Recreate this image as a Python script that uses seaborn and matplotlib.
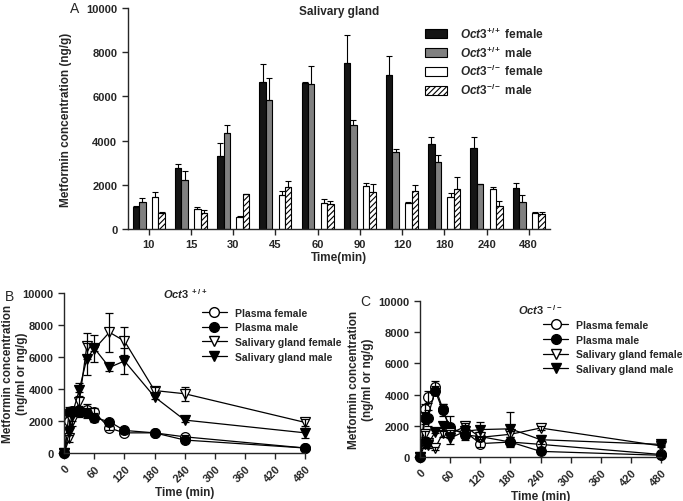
import numpy as np
import pandas as pd
import seaborn as sns
import matplotlib.pyplot as plt
from matplotlib.patches import Patch
from matplotlib.lines import Line2D

# ---- panel A data (bars, mean and upper SEM)
bar_times = ['10', '15', '30', '45', '60', '90', '120', '180', '240', '480']
wt_female = [1000, 2780, 3280, 6650, 6600, 7520, 6970, 3840, 3660, 1850]
wt_male = [1210, 2230, 4350, 5850, 6550, 4710, 3480, 3040, 2020, 1230]
ko_female = [1430, 920, 560, 1520, 1190, 1940, 1190, 1430, 1820, 730]
ko_male = [710, 700, 1570, 1880, 1120, 1690, 1730, 1810, 1040, 690]
wt_female_err = [50, 180, 590, 830, 30, 1250, 850, 330, 500, 220]
wt_male_err = [170, 410, 370, 970, 830, 200, 140, 320, 30, 300]
ko_female_err = [230, 60, 40, 180, 180, 130, 40, 180, 100, 30]
ko_male_err = [40, 170, 30, 300, 150, 330, 250, 540, 220, 60]

# ---- panels B and C data (time courses)
times = [0, 10, 15, 30, 45, 60, 90, 120, 180, 240, 480]
b_plasma_f = [0, 2000, 2550, 2600, 2700, 2550, 1550, 1250, 1250, 1000, 300]
b_plasma_m = [0, 2550, 2600, 2600, 2500, 2200, 1950, 1400, 1250, 800, 300]
b_sg_f = [0, 900, 2000, 3200, 6700, 6500, 7550, 7000, 3900, 3700, 1900]
b_sg_m = [0, 1300, 2300, 3950, 5900, 6550, 5350, 5750, 3500, 2050, 1250]
b_plasma_f_err = [0, 300, 300, 350, 350, 250, 100, 100, 100, 100, 50]
b_plasma_m_err = [0, 300, 300, 300, 300, 300, 100, 100, 100, 100, 50]
b_sg_f_err = [0, 200, 300, 600, 800, 100, 1230, 850, 250, 450, 200]
b_sg_m_err = [0, 200, 300, 400, 1000, 850, 200, 800, 150, 100, 300]

c_plasma_f = [0, 3100, 3850, 4500, 3100, 1700, 1600, 850, 950, 800, 150]
c_plasma_m = [0, 2500, 2500, 4250, 3000, 1900, 1400, 1300, 950, 350, 100]
c_sg_f = [0, 1450, 900, 550, 1500, 1500, 1950, 1250, 1450, 1850, 700]
c_sg_m = [0, 850, 750, 1600, 1950, 1200, 1650, 1750, 1800, 1100, 800]
c_plasma_f_err = [0, 300, 400, 400, 300, 300, 300, 200, 200, 200, 50]
c_plasma_m_err = [0, 400, 500, 300, 400, 700, 300, 300, 300, 100, 50]
c_sg_f_err = [0, 200, 200, 100, 200, 200, 200, 100, 200, 100, 50]
c_sg_m_err = [0, 300, 200, 100, 300, 400, 400, 500, 1100, 300, 100]

line_labels = ['Plasma female', 'Plasma male', 'Salivary gland female', 'Salivary gland male']
line_markers = ['o', 'o', 'v', 'v']
line_faces = ['white', 'black', 'white', 'black']

sns.set_style('ticks')
plt.rcParams['font.family'] = ['Liberation Sans', 'DejaVu Sans']
plt.rcParams['font.weight'] = 'bold'
plt.rcParams['axes.labelweight'] = 'bold'
plt.rcParams['mathtext.fontset'] = 'custom'
plt.rcParams['mathtext.it'] = 'Liberation Sans:italic:bold'
plt.rcParams['mathtext.rm'] = 'Liberation Sans:bold'
plt.rcParams['axes.linewidth'] = 1.0
plt.rcParams['hatch.linewidth'] = 0.8

fig = plt.figure(figsize=(6.83, 5.02), dpi=100)
axA = fig.add_axes([0.187, 0.542, 0.618, 0.440])
axB = fig.add_axes([0.094, 0.096, 0.353, 0.318])
axC = fig.add_axes([0.615, 0.088, 0.353, 0.310])

# ---------------- panel A
groups = ['wt_f', 'wt_m', 'gap', 'ko_f', 'ko_m']
rows = []
for name, vals in zip(['wt_f', 'wt_m', 'ko_f', 'ko_m'], [wt_female, wt_male, ko_female, ko_male]):
    for t, v in zip(bar_times, vals):
        rows.append({'time': t, 'conc': v, 'group': name})
df_bar = pd.DataFrame(rows)
pal = {'wt_f': '#151515', 'wt_m': '#808080', 'gap': 'white', 'ko_f': 'white', 'ko_m': 'white'}
sns.barplot(data=df_bar, x='time', y='conc', hue='group', hue_order=groups,
            order=bar_times, palette=pal, dodge=True, width=0.76, errorbar=None,
            saturation=1, edgecolor='black', linewidth=0.8, legend=False, ax=axA)

errs = wt_female_err + wt_male_err + ko_female_err + ko_male_err
for i, p in enumerate(axA.patches):
    if i >= 30:
        p.set_hatch('//////')
    xc = p.get_x() + p.get_width() / 2
    axA.errorbar(xc, p.get_height(), yerr=[[0], [errs[i]]], fmt='none',
                 ecolor='black', elinewidth=0.8, capsize=2, capthick=0.8)

axA.set_xlim(-0.5, 9.5)
axA.set_ylim(0, 10000)
axA.set_yticks([0, 2000, 4000, 6000, 8000, 10000])
axA.tick_params(axis='both', labelsize=8, length=4, width=1)
axA.set_xlabel('Time(min)', fontsize=8.5, labelpad=1)
axA.set_ylabel('Metformin concentration (ng/g)', fontsize=8.5, labelpad=10)
axA.text(0.5, 0.985, 'Salivary gland', transform=axA.transAxes, ha='center', va='center',
         fontsize=8.5, fontweight='bold')
sns.despine(ax=axA)

handles = [Patch(facecolor='#151515', edgecolor='black', linewidth=0.8),
           Patch(facecolor='#808080', edgecolor='black', linewidth=0.8),
           Patch(facecolor='white', edgecolor='black', linewidth=0.8),
           Patch(facecolor='white', edgecolor='black', linewidth=0.8, hatch='//////')]
labels = [r'$\mathit{Oct3}^{+/+}$ female', r'$\mathit{Oct3}^{+/+}$ male',
          r'$\mathit{Oct3}^{-/-}$ female', r'$\mathit{Oct3}^{-/-}$ male']
axA.legend(handles, labels, loc='upper left', bbox_to_anchor=(0.704, 0.92), frameon=False,
           fontsize=8.5, handlelength=1.9, handleheight=0.8, labelspacing=0.3,
           handletextpad=1.1, borderpad=0, borderaxespad=0)

fig.text(0.102, 0.975, 'A', fontsize=10, fontweight='normal')


# ---------------- panels B and C
def time_panel(ax, series, errors, title, title_y, ylab_x, leg_x, leg_y):
    for vals, err, lab, mk, fc in zip(series, errors, line_labels, line_markers, line_faces):
        d = pd.DataFrame({'time': times, 'conc': vals})
        sns.lineplot(data=d, x='time', y='conc', ax=ax, color='black', linewidth=0.9,
                     marker=mk, markersize=7, markerfacecolor=fc, markeredgecolor='black',
                     markeredgewidth=0.9, clip_on=False, label=lab)
        ax.errorbar(times, vals, yerr=err, fmt='none', ecolor='black',
                    elinewidth=0.9, capsize=3, capthick=0.9, clip_on=False)
    ax.set_xlim(0, 480)
    ax.set_ylim(0, 10000)
    ax.set_xticks(range(0, 481, 60))
    ax.set_yticks([0, 2000, 4000, 6000, 8000, 10000])
    ax.tick_params(axis='both', labelsize=8, length=4, width=1)
    ax.tick_params(axis='x', labelrotation=45)
    for lbl in ax.get_xticklabels():
        lbl.set_ha('right')
        lbl.set_rotation_mode('anchor')
    ax.set_xlabel('Time (min)', fontsize=8.5, labelpad=2)
    ax.set_ylabel('Metformin concentration\n(ng/ml or ng/g)', fontsize=8.5)
    ax.yaxis.set_label_coords(ylab_x, 0.5)
    ax.text(0.5, title_y, title, transform=ax.transAxes, ha='center', va='center', fontsize=8)
    sns.despine(ax=ax)
    hs = [Line2D([0], [0], color='black', linewidth=0.9, marker=mk, markersize=7,
                 markerfacecolor=fc, markeredgecolor='black') for mk, fc in zip(line_markers, line_faces)]
    ax.legend(hs, line_labels, loc='upper left', bbox_to_anchor=(leg_x, leg_y), frameon=False,
              fontsize=7.5, handlelength=2.4, labelspacing=0.45, handletextpad=0.8,
              borderpad=0, borderaxespad=0)


time_panel(axB, [b_plasma_f, b_plasma_m, b_sg_f, b_sg_m],
           [b_plasma_f_err, b_plasma_m_err, b_sg_f_err, b_sg_m_err], r'$\mathit{Oct3}^{\ +/+}$',
           1.0, -0.15, 0.57, 0.91)
time_panel(axC, [c_plasma_f, c_plasma_m, c_sg_f, c_sg_m],
           [c_plasma_f_err, c_plasma_m_err, c_sg_f_err, c_sg_m_err], r'$\mathit{Oct3}^{\ -/-}$',
           0.95, -0.19, 0.51, 0.88)

fig.text(0.007, 0.40, 'B', fontsize=10, fontweight='normal')
fig.text(0.527, 0.39, 'C', fontsize=10, fontweight='normal')

fig.savefig('out.png', dpi=100)
